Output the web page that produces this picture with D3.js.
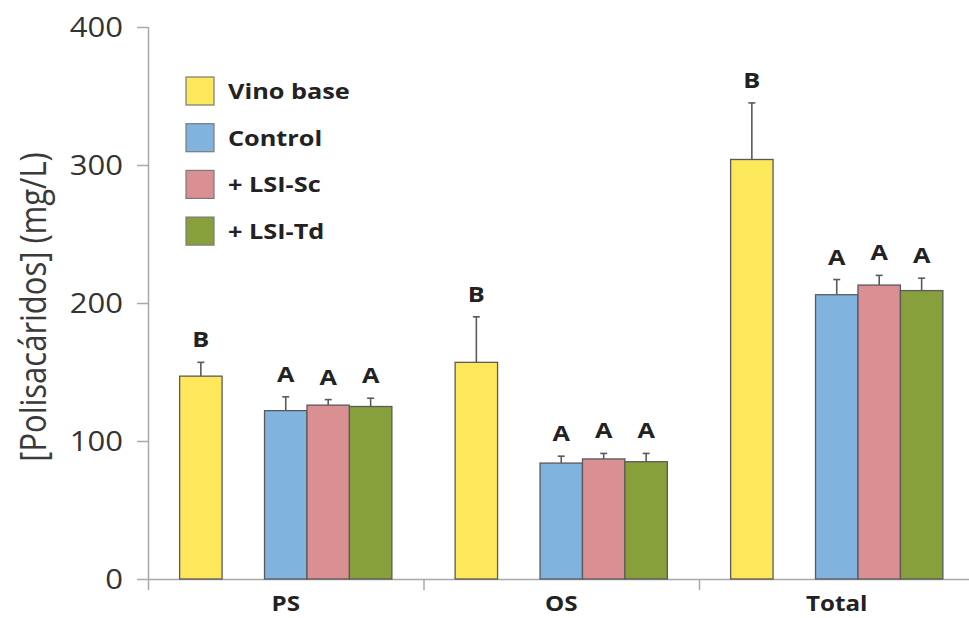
<!DOCTYPE html>
<html>
<head>
<meta charset="utf-8">
<style>
  body { margin: 0; background: #fff; }
  text { font-family: "Open Sans", "DejaVu Sans", sans-serif; }
</style>
</head>
<body>
<div id="chart"></div>
<script src="https://d3js.org/d3.v7.min.js"></script>
<script>
const categories = ["PS", "OS", "Total"];
const seriesNames = ["Vino base", "Control", "+ LSI-Sc", "+ LSI-Td"];

const vinoBase = [147, 157, 304];
const control = [122, 84, 206];
const lsiSc = [126, 87, 213];
const lsiTd = [125, 85, 209];

const vinoBaseErr = [10, 33, 41];
const controlErr = [10, 5, 11];
const lsiScErr = [4, 4, 7];
const lsiTdErr = [6, 6, 9];

const vinoBaseLetters = ["B", "B", "B"];
const controlLetters = ["A", "A", "A"];
const lsiScLetters = ["A", "A", "A"];
const lsiTdLetters = ["A", "A", "A"];

const yTicks = [0, 100, 200, 300, 400];

const colors = ["#fde75b", "#80b3de", "#da8f93", "#88a03b"];
const stretch = 1.15;

const width = 969, height = 618;
const margin = { left: 148, top: 27, bottom: 39 };

const svg = d3.select("#chart").append("svg")
    .attr("width", width)
    .attr("height", height);

const y = d3.scaleLinear()
    .domain([0, 400])
    .range([height - margin.bottom, margin.top]);

const x0 = d3.scaleBand()
    .domain(categories)
    .range([margin.left, margin.left + 3 * 275.5]);

// empty slot between the base wine and the treatments
const x1 = d3.scaleBand()
    .domain(["Vino base", "gap", "Control", "+ LSI-Sc", "+ LSI-Td"])
    .range([0, x0.bandwidth()])
    .paddingInner(0)
    .paddingOuter(0.745);

const values = [vinoBase, control, lsiSc, lsiTd];
const errs = [vinoBaseErr, controlErr, lsiScErr, lsiTdErr];
const letters = [vinoBaseLetters, controlLetters, lsiScLetters, lsiTdLetters];

const bars = [];
seriesNames.forEach((s, i) => {
  categories.forEach((c, j) => {
    bars.push({ cat: c, series: s, color: colors[i], value: values[i][j], err: errs[i][j], letter: letters[i][j] });
  });
});

// axes
const yAxis = svg.append("g")
    .attr("transform", `translate(${margin.left},0)`)
    .call(d3.axisLeft(y).tickValues(yTicks).tickSize(11).tickPadding(14));
yAxis.select(".domain").attr("stroke", "#a9a9a9").attr("stroke-width", 1.5)
    .attr("d", `M0.5,${y(400)}V${y(0)}`);
yAxis.selectAll(".tick line").attr("stroke", "#a9a9a9").attr("stroke-width", 1.5);
yAxis.selectAll(".tick text")
    .attr("fill", "#333")
    .attr("font-size", 27)
    .attr("font-family", "'Open Sans', sans-serif")
    .attr("dy", "0.36em")
    .attr("transform", `scale(${stretch},1)`)
    .attr("x", -25 / stretch);

const xAxis = svg.append("g")
    .attr("transform", `translate(0,${y(0)})`);
xAxis.append("line")
    .attr("x1", margin.left).attr("x2", width)
    .attr("y1", 0.5).attr("y2", 0.5)
    .attr("stroke", "#a9a9a9").attr("stroke-width", 1.5);
xAxis.selectAll(".xtick")
    .data(categories.concat(["end"]))
    .join("line")
    .attr("class", "xtick")
    .attr("x1", (d, i) => margin.left + i * x0.step() + 0.5)
    .attr("x2", (d, i) => margin.left + i * x0.step() + 0.5)
    .attr("y1", 0).attr("y2", 11)
    .attr("stroke", "#a9a9a9").attr("stroke-width", 1.5);

xAxis.selectAll(".xlabel")
    .data(categories)
    .join("text")
    .attr("class", "xlabel")
    .attr("transform", d => `translate(${x0(d) + x0.bandwidth() / 2},32) scale(${stretch},1)`)
    .attr("text-anchor", "middle")
    .attr("font-size", 21)
    .attr("font-weight", 700)
    .attr("fill", "#222")
    .text(d => d);

// y label
svg.append("text")
    .attr("transform", `translate(46,307) rotate(-90) scale(1,${stretch})`)
    .attr("text-anchor", "middle")
    .attr("font-size", 31)
    .attr("fill", "#3a3a3a")
    .text("[Polisacáridos] (mg/L)");

// bars
const g = svg.append("g");
g.selectAll("rect")
    .data(bars)
    .join("rect")
    .attr("x", d => x0(d.cat) + x1(d.series))
    .attr("y", d => y(d.value))
    .attr("width", x1.bandwidth())
    .attr("height", d => y(0) - y(d.value))
    .attr("fill", d => d.color)
    .attr("stroke", "#5a5a5a")
    .attr("stroke-width", 1.3);

const eb = svg.append("g")
    .attr("stroke", "#5a5a5a")
    .attr("stroke-width", 1.6);
eb.selectAll(".stem")
    .data(bars)
    .join("line")
    .attr("class", "stem")
    .attr("x1", d => x0(d.cat) + x1(d.series) + x1.bandwidth() / 2)
    .attr("x2", d => x0(d.cat) + x1(d.series) + x1.bandwidth() / 2)
    .attr("y1", d => y(d.value))
    .attr("y2", d => y(d.value + d.err));
eb.selectAll(".cap")
    .data(bars)
    .join("line")
    .attr("class", "cap")
    .attr("x1", d => x0(d.cat) + x1(d.series) + x1.bandwidth() / 2 - 3.5)
    .attr("x2", d => x0(d.cat) + x1(d.series) + x1.bandwidth() / 2 + 3.5)
    .attr("y1", d => y(d.value + d.err))
    .attr("y2", d => y(d.value + d.err));

svg.append("g")
    .selectAll("text")
    .data(bars)
    .join("text")
    .attr("transform", d => `translate(${x0(d.cat) + x1(d.series) + x1.bandwidth() / 2},${y(d.value + d.err) - 15}) scale(${stretch},1)`)
    .attr("text-anchor", "middle")
    .attr("font-size", 22)
    .attr("font-weight", 700)
    .attr("fill", "#222")
    .text(d => d.letter);

// legend
const legend = svg.append("g")
    .attr("transform", "translate(186,77)");
const item = legend.selectAll("g")
    .data(seriesNames)
    .join("g")
    .attr("transform", (d, i) => `translate(0,${i * 46.7})`);
item.append("rect")
    .attr("width", 28)
    .attr("height", 28)
    .attr("fill", (d, i) => colors[i])
    .attr("stroke", "#7a7a7a")
    .attr("stroke-width", 1.2);
item.append("text")
    .attr("transform", `translate(42,22) scale(${stretch},1)`)
    .attr("font-size", 22)
    .attr("font-weight", 700)
    .attr("fill", "#222")
    .text(d => d);
</script>
</body>
</html>
